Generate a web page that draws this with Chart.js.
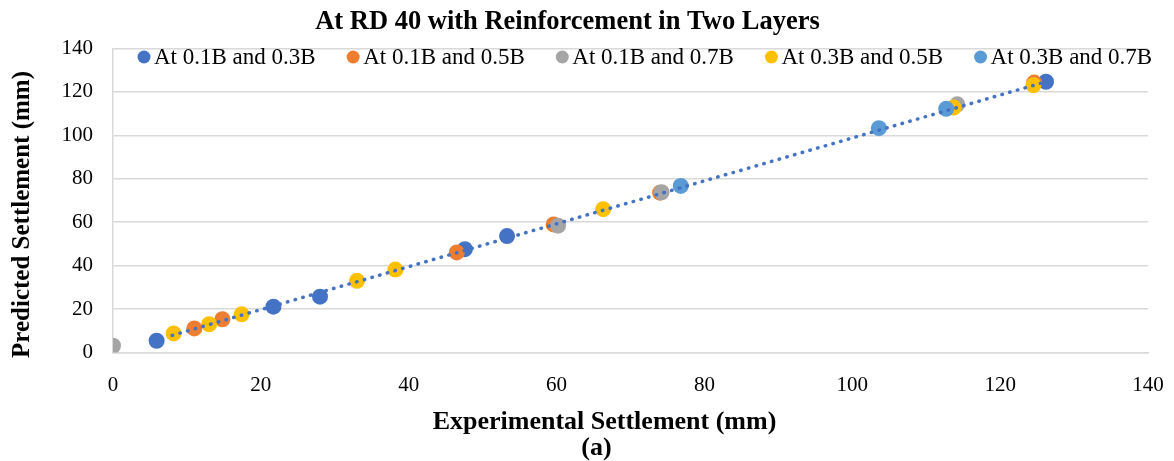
<!DOCTYPE html>
<html>
<head>
<meta charset="utf-8">
<script src="https://cdn.jsdelivr.net/npm/chart.js@4"></script>
<style>
  html, body { margin: 0; padding: 0; background: #fff; }
  #wrap { width: 1174px; height: 461px; }
</style>
</head>
<body>
<div id="wrap"><canvas id="chart" width="1174" height="461"></canvas></div>
<script>
// Series names
const seriesNames = ['At 0.1B and 0.3B', 'At 0.1B and 0.5B', 'At 0.1B and 0.7B', 'At 0.3B and 0.5B', 'At 0.3B and 0.7B'];
const seriesColors = ['#4472C4', '#ED7D31', '#A5A5A5', '#FFC000', '#5B9BD5'];

// Experimental (x) and predicted (y) settlement, mm
const s1X = [5.9, 21.7, 28.0, 47.6, 53.3, 126.2];
const s1Y = [5.4, 21.1, 25.7, 47.6, 53.6, 124.7];
const s2X = [11.0, 14.8, 46.5, 59.6, 74.0, 124.6];
const s2Y = [11.1, 15.3, 46.1, 59.0, 73.6, 124.3];
const s3X = [0, 60.2, 74.2, 114.2];
const s3Y = [3.1, 58.4, 73.8, 114.3];
const s4X = [8.2, 13.0, 17.4, 33.0, 38.2, 66.3, 113.7, 124.5];
const s4Y = [8.8, 13.0, 17.6, 33.0, 38.2, 66.0, 112.8, 123.1];
const s5X = [76.8, 103.6, 112.7];
const s5Y = [76.7, 103.3, 112.2];

// Trend line end points
const trendX = [8.0, 125.5];
const trendY = [7.9, 124.0];

const chartTitle = 'At RD 40 with Reinforcement in Two Layers';
const xTitle = 'Experimental Settlement (mm)';
const yTitle = 'Predicted Settlement (mm)';
const caption = '(a)';

const allX = [s1X, s2X, s3X, s4X, s5X];
const allY = [s1Y, s2Y, s3Y, s4Y, s5Y];

function pairs(xs, ys) {
    return xs.map((x, i) => ({ x: x, y: ys[i] }));
}

const serif = "'Liberation Serif', 'Times New Roman', serif";

const datasets = [{
    label: 'Trend',
    type: 'line',
    data: pairs(trendX, trendY),
    borderColor: '#4472C4',
    borderWidth: 3.5,
    borderDash: [0.5, 7.5],
    borderCapStyle: 'round',
    pointRadius: 0,
    fill: false,
    order: 0
}];
seriesNames.forEach((name, i) => {
    datasets.push({
        label: name,
        data: pairs(allX[i], allY[i]),
        backgroundColor: seriesColors[i],
        borderColor: seriesColors[i],
        pointRadius: 8,
        pointHoverRadius: 8,
        borderWidth: 0,
        order: 5 - i
    });
});

// Legend drawn inside the plot area, like the original
const insideLegend = {
    id: 'insideLegend',
    afterDraw(chart) {
        const ctx = chart.ctx;
        ctx.save();
        ctx.font = '23px ' + serif;
        ctx.textBaseline = 'middle';
        ctx.textAlign = 'left';
        let x = 144;
        const y = 57;
        seriesNames.forEach((name, i) => {
            ctx.fillStyle = seriesColors[i];
            ctx.beginPath();
            ctx.arc(x, y, 6.5, 0, Math.PI * 2);
            ctx.fill();
            ctx.fillStyle = '#000';
            ctx.fillText(name, x + 10, y + 1);
            x += 10 + ctx.measureText(name).width + 37.5;
        });
        ctx.restore();
    }
};

// Chart title, axis titles and caption, placed a bit off-centre as in the original
const titles = {
    id: 'titles',
    afterDraw(chart) {
        const ctx = chart.ctx;
        const area = chart.chartArea;
        const cx = (area.left + area.right) / 2;
        ctx.save();
        ctx.fillStyle = '#000';
        ctx.textAlign = 'center';
        ctx.textBaseline = 'middle';
        ctx.font = 'bold 26.5px ' + serif;
        ctx.fillText(chartTitle, cx - 63, 22);
        ctx.font = 'bold 26px ' + serif;
        ctx.fillText(xTitle, cx - 26, 422);
        ctx.fillText(caption, cx - 34, 448);
        ctx.translate(23, (area.top + area.bottom) / 2 + 14);
        ctx.rotate(-Math.PI / 2);
        ctx.font = 'bold 25px ' + serif;
        ctx.fillText(yTitle, 0, 0);
        ctx.restore();
    }
};

const ctx = document.getElementById('chart').getContext('2d');
new Chart(ctx, {
    type: 'scatter',
    data: { datasets: datasets },
    options: {
        responsive: false,
        animation: false,
        layout: { padding: { left: 0, right: 26, top: 48.5, bottom: 0 } },
        plugins: {
            legend: { display: false },
            tooltip: { enabled: false },
            title: { display: false }
        },
        scales: {
            x: {
                type: 'linear',
                min: 0,
                max: 140,
                ticks: { stepSize: 20, color: '#000', padding: 20, font: { family: serif, size: 21 } },
                grid: { display: false, drawTicks: false },
                border: { color: '#d9d9d9', width: 1.5 },
                afterFit(scale) {
                    scale.height = 461 - 352.5;
                    scale.paddingLeft = 0;
                    scale.paddingRight = 0;
                }
            },
            y: {
                type: 'linear',
                min: 0,
                max: 140,
                ticks: { stepSize: 20, color: '#000', padding: 20, font: { family: serif, size: 21 } },
                grid: { color: '#d9d9d9', lineWidth: 1.5, drawTicks: false },
                border: { color: '#d9d9d9', width: 1.5 },
                afterFit(scale) {
                    scale.width = 113;
                    scale.paddingTop = 0;
                }
            }
        }
    },
    plugins: [insideLegend, titles]
});
</script>
</body>
</html>
